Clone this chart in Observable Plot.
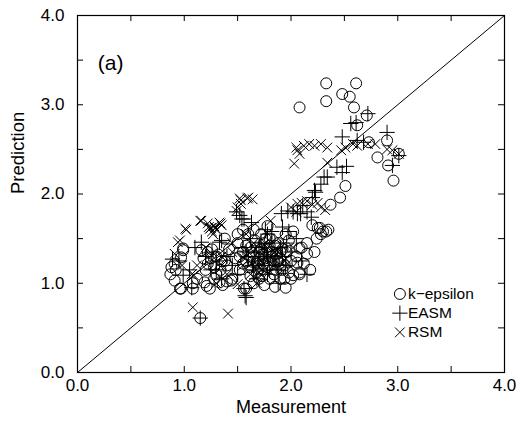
<!DOCTYPE html>
<html><head><meta charset="utf-8">
<script src="https://cdn.jsdelivr.net/npm/d3@7"></script>
<script src="https://cdn.jsdelivr.net/npm/@observablehq/plot@0.6"></script>
<style>body{margin:0;background:#fff}</style>
</head><body><div id="chart"></div>
<script>
// ---- data (Measurement, Prediction) ----
const kEpsilon = [
  [2.33,3.24],[2.61,3.24],[2.08,2.97],[2.33,3.04],[2.48,3.12],[2.55,3.09],[2.59,2.97],[2.71,2.88],[2.62,2.77],
  [2.90,2.60],[2.73,2.58],[2.81,2.41],[2.91,2.32],[2.96,2.15],[3.01,2.45],[2.51,2.09],[2.46,1.96],[2.37,1.88],
  [2.25,1.62],[2.30,1.58],[2.35,1.60],[2.28,1.55],[2.20,1.65],[2.15,1.45],[2.10,1.40],[2.05,1.30],[2.12,1.22],
  [2.18,1.15],[2.08,1.10],[2.00,1.05],[1.95,1.55],[1.98,1.48],[2.02,1.58],[2.22,1.35],
  [1.62,1.40],[1.65,1.30],[1.68,1.22],[1.70,1.35],[1.72,1.15],[1.75,1.45],[1.76,1.28],[1.78,1.38],[1.80,1.20],
  [1.82,1.30],[1.84,1.10],[1.85,1.42],[1.88,1.25],[1.90,1.35],[1.92,1.15],[1.94,1.05],[1.70,1.05],[1.65,1.00],
  [1.75,0.98],[1.85,0.96],[1.95,0.95],[1.58,1.25],[1.55,1.35],[1.52,1.15],[1.50,1.45],[1.48,1.28],[1.45,1.05],
  [1.42,1.38],[1.40,1.20],[1.38,1.50],[1.60,1.55],[1.65,1.60],[1.72,1.55],[1.80,1.50],[1.56,0.94],
  [1.35,1.25],[1.32,1.32],[1.28,1.18],[1.25,1.28],[1.22,1.35],[1.30,1.10],[1.24,0.94],[1.19,1.01],[1.33,1.01],
  [1.44,1.03],[1.16,1.37],[1.08,0.94],[1.08,1.00],[0.99,1.37],[0.97,1.29],[0.88,1.18],[0.91,1.22],[0.91,1.03],
  [0.97,0.94],[1.15,0.61],[1.20,1.15],[1.12,1.05],[1.58,0.94],
  [1.52,1.30],[1.55,1.22],[1.58,1.42],[1.60,1.18],[1.63,1.35],[1.66,1.48],[1.68,1.40],[1.70,1.28],[1.72,1.38],
  [1.74,1.22],[1.76,1.50],[1.78,1.18],[1.80,1.42],[1.82,1.35],[1.84,1.25],[1.86,1.15],[1.88,1.45],[1.90,1.28],
  [1.92,1.38],[1.94,1.20],[1.96,1.35],[1.98,1.12],[2.00,1.25],[1.73,1.08],[1.62,1.08],[1.80,1.05],[1.90,1.05],
  [2.06,1.23],[2.08,1.12],[2.02,1.09],[2.08,1.39],[2.15,1.33],[2.27,1.62],[2.33,1.58],[2.24,1.50],[1.78,1.64],
  [1.55,1.60],[1.50,1.55],[1.22,1.22],[1.26,1.38],[1.30,1.30],[1.34,1.15],[1.38,1.25],[1.18,1.28],[1.28,1.05],
  [1.36,0.98],[1.40,1.02],[1.21,0.97],[0.96,0.94],[0.87,1.10],[0.92,1.15],[0.99,1.39],[1.68,1.12],[1.73,1.32],
  [1.86,1.32],[1.64,1.24]
];
const easm = [
  [2.56,2.79],[2.61,2.80],[2.72,2.90],[2.48,2.64],[2.90,2.69],[2.62,2.60],[2.68,2.58],[2.95,2.32],[3.01,2.43],
  [2.48,2.24],[2.52,2.31],[2.31,2.19],[2.28,2.11],[2.23,2.02],[2.20,1.96],[2.34,2.19],[2.22,2.04],[2.43,2.30],
  [2.06,1.78],[2.09,1.78],[2.15,1.80],[2.19,1.74],[1.97,1.81],[1.92,1.63],[1.91,1.78],[1.49,1.80],[1.56,1.72],
  [1.63,1.68],[1.52,1.76],
  [1.33,1.46],[1.16,1.46],[0.89,1.27],[0.99,1.09],[1.58,0.84],[1.56,0.94],[1.15,0.61],[1.30,1.25],[1.25,1.15],
  [1.40,1.30],[1.45,1.20],[1.55,1.40],[1.60,1.30],[1.65,1.15],[1.70,1.25],[1.75,1.35],[1.80,1.15],[1.85,1.28],
  [1.90,1.40],[1.95,1.20],[2.00,1.35],[2.05,1.50],[1.72,1.45],[1.68,1.05],[1.78,1.10],[1.88,1.00],[1.50,1.10],
  [1.35,1.05],[1.20,1.30],[1.05,1.15],[0.95,1.25],[1.10,1.40],[1.62,1.50],[2.10,1.25],[2.15,1.10],[1.98,1.58],
  [1.82,1.58],
  [1.58,1.35],[1.66,1.30],[1.70,1.40],[1.74,1.20],[1.78,1.30],[1.82,1.45],[1.86,1.20],[1.92,1.30],[1.96,1.45],
  [1.64,1.20],[1.76,1.60],[1.78,1.55],[1.54,1.72],[2.02,1.80],[2.11,1.87],[1.35,1.48],[1.26,1.35],[1.57,0.86],
  [1.07,0.95],[1.30,1.15],[1.88,1.15]
];
const rsm = [
  [2.05,2.52],[2.08,2.45],[2.03,2.34],[2.12,2.54],[2.17,2.56],[2.22,2.54],[2.28,2.56],[2.34,2.52],[2.34,2.35],
  [2.47,2.49],[2.51,2.52],[2.58,2.56],[2.62,2.54],[2.72,2.56],[2.79,2.56],[2.90,2.50],[2.95,2.49],[3.01,2.45],
  [2.06,2.49],
  [1.53,1.93],[1.60,1.96],[1.64,1.94],[1.50,1.85],[1.53,1.89],[2.06,1.89],[2.00,1.85],[2.10,1.90],[2.20,1.88],
  [2.28,1.85],[1.81,1.70],[1.02,1.60],[1.16,1.70],[1.33,1.68],[1.25,1.62],[1.28,1.64],[1.30,1.60],[1.35,1.65],
  [1.22,1.67],[1.27,1.55],
  [0.94,1.46],[0.91,1.33],[1.07,1.10],[1.50,0.99],[1.08,0.73],[1.41,0.66],[1.20,1.40],[1.35,1.30],[1.45,1.45],
  [1.55,1.20],[1.60,1.35],[1.65,1.45],[1.70,1.18],[1.75,1.30],[1.78,1.40],[1.82,1.22],[1.85,1.35],[1.90,1.15],
  [1.95,1.28],[1.72,1.10],[1.68,1.00],[1.62,1.10],[1.88,1.50],[1.40,1.10],[1.30,1.00],[1.12,1.20],[0.98,1.20],
  [2.02,1.40],[1.58,1.55],
  [1.56,1.28],[1.63,1.22],[1.67,1.38],[1.72,1.25],[1.76,1.45],[1.80,1.30],[1.84,1.20],[1.88,1.35],[1.92,1.42],
  [1.97,1.22],[1.24,1.61],[1.26,1.58],[1.23,1.63],[1.29,1.62],[1.52,1.95],[1.59,1.95],[1.49,1.81],[1.15,1.70],
  [1.01,1.61],[1.34,1.67],[0.96,1.48],[1.09,1.09],[2.05,1.80],[2.15,1.92],[2.25,1.90],[2.32,1.82],[1.35,1.20],
  [1.45,1.35],[1.70,1.12]
];
const seriesNames = ["k\u2212epsilon", "EASM", "RSM"];
const axisTicks = [0, 1, 2, 3, 4];
const minorTicks = [0, 0.5, 1, 1.5, 2, 2.5, 3, 3.5, 4];
const axisDomain = [0, 4];
const panelLabel = "(a)";
const xLabel = "Measurement";
const yLabel = "Prediction";

// ---- layout ----
const W = 518, H = 421, mL = 77, mR = 14, mT = 15, mB = 49;
const pw = W - mL - mR, ph = H - mT - mB, tickPx = 6;
const span = axisDomain[1] - axisDomain[0];
const tx = tickPx * span / pw, ty = tickPx * span / ph;   // tick length in data units
const [lo, hi] = axisDomain;
const font = "'Liberation Sans', Arial, Helvetica, sans-serif";
const symbols = ["circle", "plus", "times"];
const radii = [5.5, 5, 4.5];
const seriesData = [kEpsilon, easm, rsm];
const legend = seriesNames.map((name, i) => ({name, i, x: 3.02, y: 0.88 - 0.215 * i}));

const marks = [
  Plot.frame({stroke: "#000", strokeWidth: 1.2}),
  Plot.line([[lo, lo], [hi, hi]], {stroke: "#000", strokeWidth: 1}),
  // inward ticks on all four sides
  Plot.ruleX(minorTicks, {x: d => d, y1: lo, y2: lo + ty, stroke: "#000", strokeWidth: 1}),
  Plot.ruleX(minorTicks, {x: d => d, y1: hi - ty, y2: hi, stroke: "#000", strokeWidth: 1}),
  Plot.ruleY(minorTicks, {y: d => d, x1: lo, x2: lo + tx, stroke: "#000", strokeWidth: 1}),
  Plot.ruleY(minorTicks, {y: d => d, x1: hi - tx, x2: hi, stroke: "#000", strokeWidth: 1}),
  // tick labels
  Plot.axisX(axisTicks, {anchor: "bottom", tickSize: 0, tickPadding: 6, tickFormat: d3.format(".1f"), label: null, fontSize: 17, fill: "#000"}),
  Plot.axisY(axisTicks, {anchor: "left", tickSize: 0, tickPadding: 13, tickFormat: d3.format(".1f"), label: null, fontSize: 17, fill: "#000"}),
  Plot.text([xLabel], {frameAnchor: "bottom", dy: 40, fontSize: 18, fill: "#000"}),
  Plot.text([yLabel], {frameAnchor: "left", dx: -59, rotate: -90, fontSize: 18.5, fill: "#000"}),
  Plot.text([panelLabel], {x: 0.31, y: 3.47, fontSize: 21, fill: "#000"}),
  ...seriesData.map((data, i) => Plot.dot(data, {x: d => d[0], y: d => d[1], symbol: symbols[i], r: radii[i], stroke: "#000", fill: "none", strokeWidth: 1})),
  ...legend.map(d => Plot.dot([d], {x: "x", y: "y", symbol: symbols[d.i], r: radii[d.i], stroke: "#000", fill: "none", strokeWidth: 1})),
  Plot.text(legend, {x: "x", y: "y", text: "name", textAnchor: "start", dx: 8, fontSize: 15.5, fill: "#000"})
];

const chart = Plot.plot({
  width: W, height: H,
  marginLeft: mL, marginRight: mR, marginTop: mT, marginBottom: mB,
  x: {domain: axisDomain},
  y: {domain: axisDomain},
  style: {fontFamily: font, color: "#000", background: "#fff", overflow: "visible"},
  marks
});
document.getElementById("chart").appendChild(chart);
</script>
</body></html>
